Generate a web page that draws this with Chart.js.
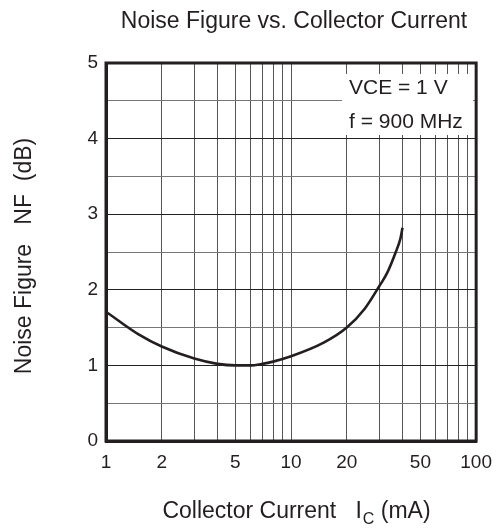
<!DOCTYPE html>
<html>
<head>
<meta charset="utf-8">
<script src="https://cdn.jsdelivr.net/npm/chart.js@4/dist/chart.umd.min.js"></script>
<style>
  html, body { margin: 0; padding: 0; background: #fff; }
  #wrap { width: 502px; height: 531px; }
</style>
</head>
<body>
<div id="wrap"><canvas id="nfChart" width="502" height="531"></canvas></div>
<script>
// values
const currentMA = [1, 1.5, 2, 3, 4, 5, 6, 7, 8, 10, 15, 20, 25, 30, 33, 36.8, 39, 40];
const noiseDB   = [1.71, 1.41, 1.25, 1.09, 1.02, 1.0, 1.0, 1.02, 1.05, 1.12, 1.30, 1.50, 1.75, 2.05, 2.22, 2.5, 2.68, 2.82];

// log grid lines, and which of them get a label
const xGridValues = [1, 2, 3, 4, 5, 6, 7, 8, 9, 10, 20, 30, 40, 50, 60, 70, 80, 90, 100];
const xTickLabels = [1, 2, 5, 10, 20, 50, 100];

const legendLines = ['VCE = 1 V', 'f = 900 MHz'];
const ink = '#231f20';
const FONT = "'Liberation Sans', Arial, Helvetica, sans-serif";

// titles, note box and frame drawn on the canvas
const decorations = {
    id: 'decorations',
    beforeDatasetsDraw(chart) {
        const ctx = chart.ctx;
        ctx.save();
        ctx.fillStyle = '#fff';
        ctx.fillRect(342, 74, 131, 61);
        ctx.fillStyle = ink;
        ctx.font = '21px ' + FONT;
        ctx.textAlign = 'left';
        ctx.textBaseline = 'alphabetic';
        ctx.fillText(legendLines[0], 349, 93.5);
        ctx.fillText(legendLines[1], 349, 128);
        ctx.restore();
    },
    afterDraw(chart) {
        const ctx = chart.ctx;
        const a = chart.chartArea;
        ctx.save();
        ctx.strokeStyle = ink;
        ctx.lineWidth = 3;
        ctx.strokeRect(a.left, a.top, a.right - a.left, a.bottom - a.top);

        ctx.fillStyle = ink;
        ctx.textBaseline = 'alphabetic';

        // main title
        ctx.font = '23px ' + FONT;
        ctx.textAlign = 'center';
        ctx.fillText('Noise Figure vs. Collector Current', 294, 28);

        // x axis title with subscript
        const big = '23px ' + FONT, small = '16px ' + FONT;
        const p1 = 'Collector Current   I', p2 = 'C', p3 = ' (mA)';
        ctx.font = big;
        const w1 = ctx.measureText(p1).width, w3 = ctx.measureText(p3).width;
        ctx.font = small;
        const w2 = ctx.measureText(p2).width;
        let x = 296 - (w1 + w2 + w3) / 2;
        ctx.textAlign = 'left';
        ctx.font = big;
        ctx.fillText(p1, x, 518);
        ctx.font = small;
        ctx.fillText(p2, x + w1 + 1, 524);
        ctx.font = big;
        ctx.fillText(p3, x + w1 + w2 + 1, 518);

        // y axis title
        ctx.translate(31, 256);
        ctx.rotate(-Math.PI / 2);
        ctx.textAlign = 'center';
        ctx.font = big;
        ctx.fillText('Noise Figure   NF  (dB)', 0, 0);
        ctx.restore();
    }
};

new Chart(document.getElementById('nfChart'), {
    type: 'line',
    data: {
        datasets: [{
            data: currentMA.map((c, i) => ({ x: c, y: noiseDB[i] })),
            borderColor: ink,
            borderWidth: 2.6,
            pointRadius: 0,
            cubicInterpolationMode: 'monotone',
            fill: false
        }]
    },
    options: {
        responsive: false,
        animation: false,
        layout: { padding: { top: 63, right: 19, left: 0, bottom: 0 } },
        plugins: { legend: { display: false }, tooltip: { enabled: false } },
        scales: {
            x: {
                type: 'logarithmic',
                min: 1,
                max: 100,
                afterBuildTicks: (s) => { s.ticks = xGridValues.map(v => ({ value: v })); },
                afterFit: (s) => { s.height = 90; },
                ticks: {
                    autoSkip: false,
                    maxRotation: 0,
                    padding: 10,
                    color: ink,
                    font: { family: FONT, size: 19 },
                    callback: (v) => xTickLabels.includes(v) ? String(v) : ''
                },
                grid: { color: '#555', lineWidth: 1, drawTicks: false },
                border: { color: ink, width: 3 }
            },
            y: {
                min: 0,
                max: 5,
                afterFit: (s) => { s.width = 106; },
                ticks: {
                    stepSize: 0.5,
                    padding: 8,
                    color: ink,
                    font: { family: FONT, size: 19 },
                    callback: (v) => Number.isInteger(v) ? String(v) : ''
                },
                grid: {
                    drawTicks: false,
                    lineWidth: 1,
                    color: (c) => Number.isInteger(c.tick.value) ? '#222' : '#777'
                },
                border: { color: ink, width: 3 }
            }
        }
    },
    plugins: [decorations]
});
</script>
</body>
</html>
